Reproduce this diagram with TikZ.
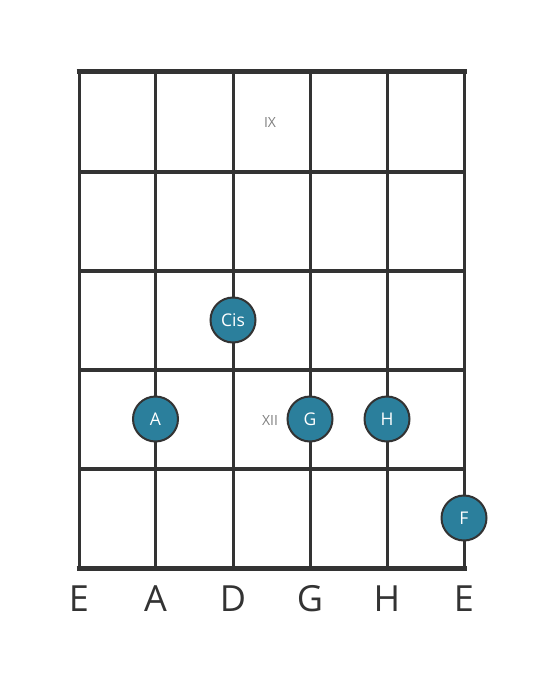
\documentclass[tikz,border=0pt]{standalone}
\usepackage{fontspec}
\setmainfont{Open Sans}
\definecolor{ink}{HTML}{333333}
\definecolor{dotfill}{HTML}{2B7F9C}
\definecolor{fretno}{HTML}{808080}
\begin{document}
\begin{tikzpicture}[x=1pt,y=-1pt,
  stringline/.style={draw=ink,line width=3pt},
  fretline/.style={draw=ink,line width=4pt},
  edgeline/.style={draw=ink,line width=5pt},
  notedot/.style={circle,draw=ink,line width=2pt,fill=dotfill,minimum size=45pt,inner sep=0pt,text=white,font=\fontsize{17.5}{17.5}\selectfont},
  strlabel/.style={text=ink,font=\fontsize{36}{36}\selectfont,inner sep=0pt},
  fretlabel/.style={text=fretno,font=\fontsize{14}{14}\selectfont,inner sep=0pt}]
\useasboundingbox (0,0) rectangle (559,682);
% strings
\foreach \x/\n in {79/s1,155.5/s2,233/s3,310/s4,387/s5,464/s6}{
  \coordinate (\n t) at (\x,72);
  \coordinate (\n b) at (\x,568);
  \draw[stringline] (\n t) -- (\n b);
}
% frets
\foreach \y/\n in {172/f1,271/f2,370/f3,469/f4}{
  \coordinate (\n l) at (79,\y);
  \coordinate (\n r) at (464,\y);
  \draw[fretline] (\n l) -- (\n r);
}
\coordinate (topl) at (76.5,72);
\coordinate (topr) at (466.5,72);
\coordinate (botl) at (76.5,568);
\coordinate (botr) at (466.5,568);
\draw[edgeline] (topl) -- (topr);
\draw[edgeline] (botl) -- (botr);
% fret numbers
\node[fretlabel] (ix) at (270,123) {IX};
\node[fretlabel] (xii) at (270,420) {XII};
% notes
\node[notedot] (cis) at (233,320) {Cis};
\node[notedot] (a) at (155.5,419) {A};
\node[notedot] (g) at (310,419) {G};
\node[notedot] (h) at (387,419) {H};
\node[notedot] (f) at (464,518) {F};
% string names
\foreach \x/\t/\n in {79/E/l1,155.5/A/l2,233/D/l3,310/G/l4,387/H/l5,464/E/l6}{
  \node[strlabel,anchor=base] (\n) at (\x,611) {\t};
}
\end{tikzpicture}
\end{document}
